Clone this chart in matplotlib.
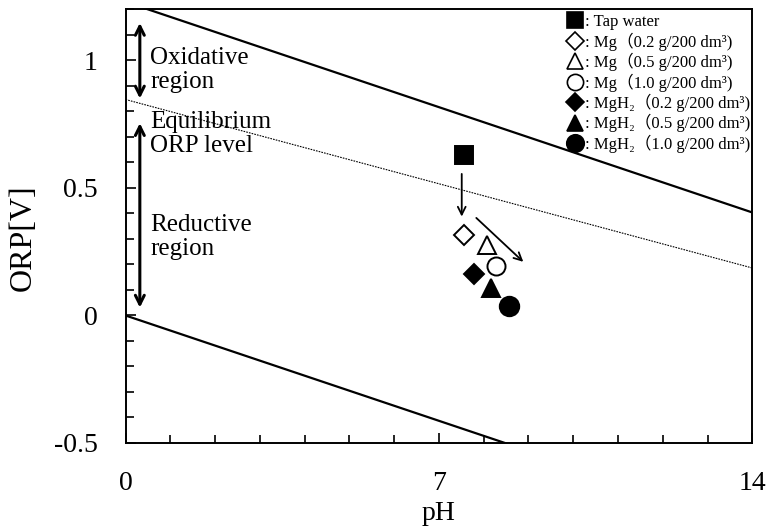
import matplotlib
matplotlib.use("Agg")
import matplotlib.pyplot as plt
from matplotlib.lines import Line2D
from matplotlib.ticker import MultipleLocator, FixedLocator
import numpy as np

plt.rcParams['font.family'] = ['Liberation Serif', 'DejaVu Serif', 'Noto Sans CJK JP']

# ORP-pH data
labels = [": Tap water",
          ": Mg（0.2 g/200 dm³)",
          ": Mg（0.5 g/200 dm³)",
          ": Mg（1.0 g/200 dm³)",
          ": MgH₂（0.2 g/200 dm³)",
          ": MgH₂（0.5 g/200 dm³)",
          ": MgH₂（1.0 g/200 dm³)"]
ph_vals = [7.56, 7.55, 8.07, 8.27, 7.79, 8.17, 8.57]
orp_vals = [0.628, 0.314, 0.278, 0.194, 0.161, 0.107, 0.039]
markers = ['s', 'D', '^', 'o', 'D', '^', 'o']
filled = [True, False, False, False, True, True, True]
sizes = [13, 10, 13, 13, 10, 13, 14]

# boundary lines: water stability and equilibrium ORP level
ph_line = np.array([0, 14])
upper_line = 1.23 - 0.059 * ph_line
lower_line = -0.059 * ph_line
equil_line = 0.847 - 0.0472 * ph_line

fig = plt.figure(figsize=(7.7, 5.29), dpi=100)
ax = fig.add_axes([0.163, 0.1626, 0.814, 0.8195])

ax.plot(ph_line, upper_line, color='black', lw=1.6)
ax.plot(ph_line, lower_line, color='black', lw=1.6)
ax.plot(ph_line, equil_line, color='black', lw=0.8, linestyle=(0, (1.5, 1.0)))

handles = []
for x, y, m, f, s, lab in zip(ph_vals, orp_vals, markers, filled, sizes, labels):
    fc = 'black' if f else 'white'
    ax.plot(x, y, marker=m, markersize=s, markerfacecolor=fc,
            markeredgecolor='black', markeredgewidth=1.4, linestyle='none', zorder=5)
    handles.append(Line2D([], [], marker=m, markersize=s * 0.9, markerfacecolor=fc,
                          markeredgecolor='black', markeredgewidth=1.2, linestyle='none'))

leg = ax.legend(handles, labels, loc='upper right', bbox_to_anchor=(1.012, 1.012),
                frameon=False, handlelength=0.8, handletextpad=0.15,
                labelspacing=0.13, borderaxespad=0.2, fontsize=12)

# arrows showing the shift
ax.annotate('', xy=(7.51, 0.377), xytext=(7.51, 0.566),
            arrowprops=dict(arrowstyle='->', lw=1.3, color='black', mutation_scale=14))
ax.annotate('', xy=(8.93, 0.203), xytext=(7.79, 0.39),
            arrowprops=dict(arrowstyle='->', lw=1.3, color='black', mutation_scale=14))

# region arrows on the left
ax.annotate('', xy=(0.32, 1.158), xytext=(0.32, 0.84),
            arrowprops=dict(arrowstyle='<->', lw=2.2, color='black', mutation_scale=16))
ax.annotate('', xy=(0.32, 0.765), xytext=(0.32, 0.02),
            arrowprops=dict(arrowstyle='<->', lw=2.2, color='black', mutation_scale=16))

ax.text(0.55, 0.962, "Oxidative\nregion", fontsize=18, va='center', ha='left', linespacing=1.1)
ax.text(0.55, 0.713, "Equilibrium\nORP level", fontsize=18, va='center', ha='left', linespacing=1.1)
ax.text(0.55, 0.307, "Reductive\nregion", fontsize=18, va='center', ha='left', linespacing=1.1)

ax.set_xlim(0, 14)
ax.set_ylim(-0.5, 1.2)
ax.xaxis.set_major_locator(FixedLocator([0, 7, 14]))
ax.xaxis.set_minor_locator(MultipleLocator(1))
ax.yaxis.set_major_locator(FixedLocator([-0.5, 0, 0.5, 1]))
ax.yaxis.set_minor_locator(MultipleLocator(0.1))
ax.set_yticklabels(['-0.5', '0', '0.5', '1'])
ax.tick_params(axis='both', which='both', direction='in', width=1.2, labelsize=20)
ax.tick_params(axis='both', which='major', length=7)
ax.tick_params(axis='both', which='minor', length=6)
ax.tick_params(axis='x', which='major', pad=20)
ax.tick_params(axis='y', which='major', pad=20)
for sp in ax.spines.values():
    sp.set_linewidth(1.4)

ax.set_xlabel("pH", fontsize=20, labelpad=4)
ax.set_ylabel("ORP[V]", fontsize=23)
ax.yaxis.set_label_coords(-0.1397, 0.473)

fig.savefig("out.png", dpi=100)
